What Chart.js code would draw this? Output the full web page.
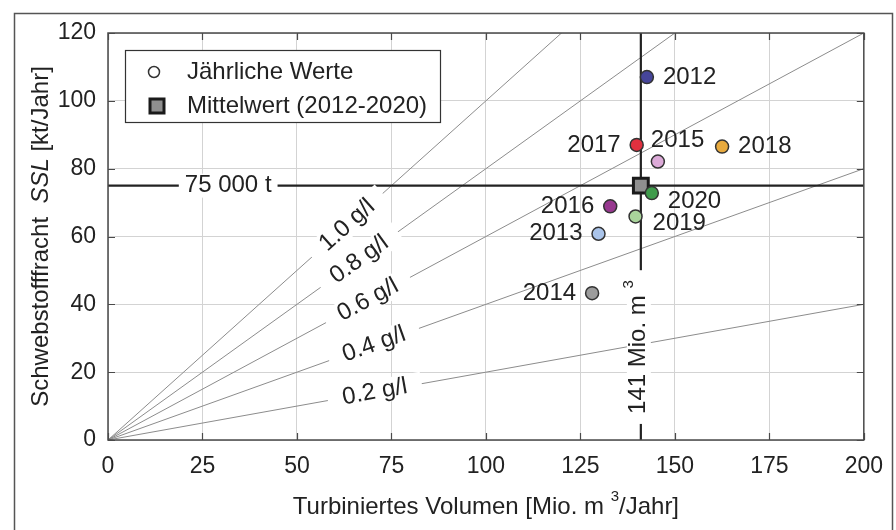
<!DOCTYPE html>
<html><head><meta charset="utf-8">
<script src="https://cdn.jsdelivr.net/npm/chart.js@4.4.1/dist/chart.umd.min.js"></script>
<style>html,body{margin:0;padding:0;background:#fff}#wrap{width:896px;height:530px;position:relative}</style>
</head><body><div id="wrap"><canvas id="c"></canvas></div>
<script>
// ---- data ----
const years = ['2012','2013','2014','2015','2016','2017','2018','2019','2020'];
const volume = [142.6, 129.8, 128.1, 145.5, 132.9, 139.9, 162.5, 139.6, 143.9]; // Mio. m3/Jahr
const load = [107.0, 60.8, 43.3, 82.1, 68.9, 87.0, 86.5, 65.9, 72.8];        // kt/Jahr
const meanVolume = 141;
const meanLoad = 75;
const concentrations = [0.2, 0.4, 0.6, 0.8, 1.0]; // g/l
const concentrationLabels = ['0.2 g/l', '0.4 g/l', '0.6 g/l', '0.8 g/l', '1.0 g/l'];
const xTicks = [0, 25, 50, 75, 100, 125, 150, 175, 200];
const yTicks = [0, 20, 40, 60, 80, 100, 120];
const legendLabels = ['Jährliche Werte', 'Mittelwert (2012-2020)'];
const meanLoadLabel = '75 000 t';
const meanVolumeLabel = ['141 Mio. m ', '3'];
const xTitle = ['Turbiniertes Volumen [Mio. m ', '3', '/Jahr]'];
const yTitle = ['Schwebstofffracht  ', 'SSL', ' [kt/Jahr]'];

// ---- styles ----
const yearColors = ['#46459a', '#aac4ea', '#9c9c9c', '#dcaad8', '#97388f', '#e0303f', '#e8aa3e', '#a9d49b', '#3f9b4b'];
// label offsets in px from point centre: [dx, dy, align]
const yearLabelPlace = [[16,0,'left'],[-16,0,'right'],[-16,0,'right'],[-7,-21,'left'],[-16,0,'right'],[-16,0,'right'],[16,0,'left'],[17,7,'left'],[16,8,'left']];
const concLabelAt = [70.6, 70.4, 68.8, 66.5, 63.3]; // x value where each g/l label sits
const FONT = "'Liberation Sans', Arial, Helvetica, sans-serif";
const TXT = '#222';

function richWidth(ctx, segs){ let w=0; for(const s of segs){ctx.font=s.font; w+=ctx.measureText(s.t).width;} return w; }
function drawRich(ctx, segs, cx, cy, angle, pad, boxH){
  ctx.save(); ctx.translate(cx, cy); ctx.rotate(angle);
  const w = richWidth(ctx, segs);
  if (boxH){ ctx.fillStyle='#fff'; ctx.fillRect(-w/2-pad, -boxH/2, w+2*pad, boxH); }
  let x = -w/2; ctx.textBaseline='middle'; ctx.textAlign='left'; ctx.fillStyle=TXT;
  for(const s of segs){ ctx.font=s.font; ctx.fillText(s.t, x, s.dy||0); x+=ctx.measureText(s.t).width; }
  ctx.restore();
}
const n24 = '24px '+FONT, i24 = 'italic 24px '+FONT, sup = '15px '+FONT;

const deco = {
  id: 'deco',
  beforeDraw(chart){
    const ctx = chart.ctx; ctx.save();
    ctx.fillStyle='#fff'; ctx.fillRect(0,0,chart.width,chart.height);
    ctx.strokeStyle='#555'; ctx.lineWidth=1.5; ctx.strokeRect(14.5, 13.5, 878, 600);
    ctx.restore();
  },
  afterDatasetsDraw(chart){
    const ctx = chart.ctx, xs = chart.scales.x, ys = chart.scales.y, a = chart.chartArea;
    // concentration labels
    concentrations.forEach((c,i)=>{
      const xv = concLabelAt[i];
      const px = xs.getPixelForValue(xv), py = ys.getPixelForValue(c*xv);
      const ang = Math.atan2(ys.getPixelForValue(c*100)-ys.getPixelForValue(0), xs.getPixelForValue(100)-xs.getPixelForValue(0));
      drawRich(ctx, [{t:concentrationLabels[i], font:n24}], px, py, ang, 15, 24);
    });
    // mean labels
    drawRich(ctx, [{t:meanLoadLabel, font:n24}], xs.getPixelForValue(31.8), ys.getPixelForValue(meanLoad), 0, 6, 24);
    drawRich(ctx, [{t:meanVolumeLabel[0], font:n24},{t:meanVolumeLabel[1], font:sup, dy:-10}], xs.getPixelForValue(meanVolume)-2, ys.getPixelForValue(27.4), -Math.PI/2, 10, 24);
    // year labels
    ctx.save(); ctx.font=n24; ctx.fillStyle=TXT; ctx.textBaseline='middle';
    years.forEach((y,i)=>{
      const p = yearLabelPlace[i];
      ctx.textAlign=p[2];
      ctx.fillText(y, xs.getPixelForValue(volume[i])+p[0], ys.getPixelForValue(load[i])+p[1]);
    });
    ctx.restore();
  },
  afterDraw(chart){
    const ctx = chart.ctx, xs = chart.scales.x, ys = chart.scales.y, a = chart.chartArea;
    ctx.save();
    // plot box
    ctx.strokeStyle='#4a4a4a'; ctx.lineWidth=1.5;
    ctx.strokeRect(a.left, a.top, a.right-a.left, a.bottom-a.top);
    // inward ticks
    ctx.lineWidth=1.2; ctx.beginPath();
    xTicks.forEach(v=>{ const x=Math.round(xs.getPixelForValue(v))+0.5; ctx.moveTo(x,a.bottom); ctx.lineTo(x,a.bottom-7); ctx.moveTo(x,a.top); ctx.lineTo(x,a.top+7); });
    yTicks.forEach(v=>{ const y=Math.round(ys.getPixelForValue(v))+0.5; ctx.moveTo(a.left,y); ctx.lineTo(a.left+7,y); ctx.moveTo(a.right,y); ctx.lineTo(a.right-7,y); });
    ctx.stroke();
    // legend
    const L = {x:125.5, y:50.5, w:315, h:72};
    ctx.fillStyle='#fff'; ctx.fillRect(L.x,L.y,L.w,L.h);
    ctx.strokeStyle='#333'; ctx.lineWidth=1.2; ctx.strokeRect(L.x,L.y,L.w,L.h);
    ctx.beginPath(); ctx.arc(154,72,5.5,0,Math.PI*2); ctx.fillStyle='#fff'; ctx.fill(); ctx.strokeStyle='#333'; ctx.lineWidth=1.5; ctx.stroke();
    ctx.fillStyle='#8f8f8f'; ctx.fillRect(150,99,14,14); ctx.strokeStyle='#1a1a1a'; ctx.lineWidth=3; ctx.strokeRect(150,99,14,14);
    ctx.font=n24; ctx.fillStyle=TXT; ctx.textBaseline='middle'; ctx.textAlign='left';
    ctx.fillText(legendLabels[0], 187, 72); ctx.fillText(legendLabels[1], 187, 106);
    ctx.restore();
    // axis titles
    drawRich(ctx, [{t:xTitle[0],font:n24},{t:xTitle[1],font:sup,dy:-10},{t:xTitle[2],font:n24}], (a.left+a.right)/2, 507, 0, 0, 0);
    drawRich(ctx, [{t:yTitle[0],font:n24},{t:yTitle[1],font:i24},{t:yTitle[2],font:n24}], 41, (a.top+a.bottom)/2, -Math.PI/2, 0, 0);
  }
};

const datasets = [];
datasets.push({ label: legendLabels[0], data: years.map((y,i)=>({x:volume[i], y:load[i]})),
  pointRadius: 6.5, pointBackgroundColor: yearColors, pointBorderColor: '#333', pointBorderWidth: 1.5, showLine:false, order: 0 });
datasets.push({ label: legendLabels[1], data: [{x:meanVolume, y:meanLoad}], pointStyle:'rect', pointRadius: 10.5,
  pointBackgroundColor:'#8f8f8f', pointBorderColor:'#1a1a1a', pointBorderWidth: 3, showLine:false, order: 1 });
datasets.push({ label:'h', data:[{x:xTicks[0], y:meanLoad},{x:xTicks[xTicks.length-1], y:meanLoad}], showLine:true, borderColor:'#222', borderWidth:2.2, pointRadius:0, order:2 });
datasets.push({ label:'v', data:[{x:meanVolume, y:yTicks[0]},{x:meanVolume, y:yTicks[yTicks.length-1]}], showLine:true, borderColor:'#222', borderWidth:2.2, pointRadius:0, order:2 });
concentrations.forEach((c,i)=>{
  datasets.push({ label: concentrationLabels[i], data:[{x:0,y:0},{x:xTicks[xTicks.length-1], y:c*xTicks[xTicks.length-1]}],
    showLine:true, borderColor:'#8c8c8c', borderWidth:1, pointRadius:0, order:3 });
});

new Chart(document.getElementById('c'), {
  type: 'scatter',
  data: { datasets },
  options: {
    responsive: true, maintainAspectRatio: false, animation: false, events: [],
    layout: { padding: { top: 33, right: 27, left: 0, bottom: 0 } },
    plugins: { legend: { display: false }, tooltip: { enabled: false } },
    scales: {
      x: { type:'linear', min: 0, max: 200,
        afterBuildTicks(s){ s.ticks = xTicks.map(v=>({value:v})); },
        afterFit(s){ s.height = 90; },
        ticks: { color: TXT, font: { family: FONT, size: 23 }, padding: 13, maxRotation:0 },
        grid: { color: '#d3d3d3', lineWidth: 1, drawTicks: false }, border: { display: false } },
      y: { type:'linear', min: 0, max: 120,
        afterBuildTicks(s){ s.ticks = yTicks.map(v=>({value:v})); },
        afterFit(s){ s.width = 108; },
        ticks: { color: TXT, font: { family: FONT, size: 23 }, padding: 12 },
        grid: { color: '#d3d3d3', lineWidth: 1, drawTicks: false }, border: { display: false } }
    }
  },
  plugins: [deco]
});
</script></body></html>
